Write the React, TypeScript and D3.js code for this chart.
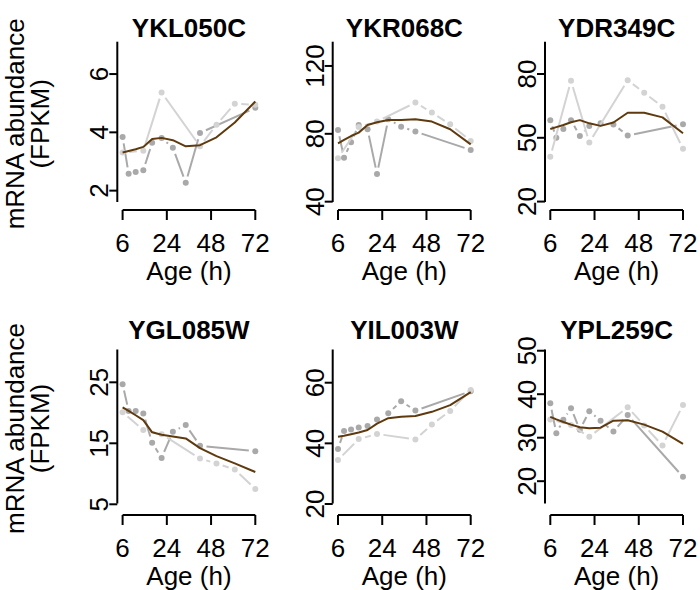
import React from "react";
import * as d3 from "d3";

// Sampling times (h) of the two replicate time courses and of the fitted curve
const hoursRepA = [6, 9, 12.5, 16.3, 20.7, 25.4, 31, 37.4, 44.5, 72];
const hoursRepB = [6, 16.3, 25.4, 44.5, 52.7, 61.8, 72];
const hoursFit = [6, 9, 12.5, 16.3, 20.7, 25.4, 31, 37.4, 44.5, 52.7, 61.8, 72];

const genes = ["YKL050C", "YKR068C", "YDR349C", "YGL085W", "YIL003W", "YPL259C"];

// Replicate A (darker grey), one row per gene
const repA = [
  [3.84, 2.58, 2.64, 2.7, 3.64, 3.81, 3.47, 2.27, 3.98, 4.84],
  [82.3, 65.9, 75.0, 85.2, 82.7, 56.3, 88.6, 84.2, 81.3, 70.5],
  [58.3, 50.0, 54.1, 58.3, 50.9, 55.5, 56.8, 56.3, 51.1, 56.4],
  [24.7, 20.3, 20.3, 19.9, 15.1, 12.6, 16.9, 18.0, 14.6, 13.7],
  [38.1, 44.1, 44.6, 45.2, 45.7, 47.9, 49.9, 53.9, 50.8, 57.2],
  [37.9, 31.0, 34.1, 36.8, 31.8, 36.1, 33.9, 31.4, 35.2, 21.0],
];

// Replicate B (light grey)
const repB = [
  [3.31, 3.37, 5.37, 3.52, 4.26, 4.98, 4.95],
  [65.6, 84.0, 87.2, 98.4, 92.5, 85.6, 75.8],
  [41.1, 76.8, 47.8, 77.1, 71.2, 64.6, 44.8],
  [20.1, 17.2, 16.5, 12.5, 11.7, 10.7, 7.5],
  [34.5, 41.4, 43.1, 41.3, 46.2, 50.7, 57.6],
  [34.2, 32.9, 30.2, 37.0, 32.8, 28.2, 37.5],
];

// Smoothed mean profile (brown)
const fit = [
  [3.31, 3.36, 3.42, 3.5, 3.77, 3.81, 3.73, 3.52, 3.56, 3.83, 4.34, 5.06],
  [74.4, 76.4, 78.7, 80.7, 85.2, 86.8, 88.2, 88.2, 88.6, 87.2, 82.7, 73.8],
  [54.1, 55.0, 56.0, 57.3, 58.3, 56.8, 55.6, 57.2, 61.8, 61.8, 59.6, 52.1],
  [20.9, 20.3, 19.6, 18.8, 16.8, 16.4, 16.1, 15.8, 14.2, 12.9, 11.7, 10.3],
  [42.2, 42.5, 43.0, 43.6, 44.4, 46.5, 48.3, 48.8, 49.0, 50.4, 52.6, 56.9],
  [34.8, 34.2, 33.6, 33.0, 32.4, 32.2, 32.3, 33.9, 34.0, 33.0, 31.4, 28.6],
];

const yLimits = [
  [1.61, 7.11],
  [39.8, 134.3],
  [19.8, 95.2],
  [5.13, 30.38],
  [20.17, 70.95],
  [14.87, 50.28],
];

const yTicks = [
  [2, 4, 6],
  [40, 80, 120],
  [20, 50, 80],
  [5, 15, 25],
  [20, 40, 60],
  [20, 30, 40, 50],
];

const xTickAt = [6, 28, 50, 72];
const xTickLabels = ["6", "24", "48", "72"];

const W = 700;
const H = 590;
const FONT = "'Liberation Sans', Arial, Helvetica, sans-serif";
const FS = 26;
const GREY_A = "#a9a9a9";
const GREY_B = "#d3d3d3";
const BROWN = "#5e3a0e";
const GAP = 6.5;

const colAxisX = [117.3, 332.7, 545];
const rowTop = [41.7, 349.5];
const rowBottom = [202, 503.5];
const rowXAxisY = [210, 515];
const rowTitleY = [37, 339];

type Pt = [number, number];

function gapped(pts: Pt[], gap: number) {
  const segs: [number, number, number, number][] = [];
  for (let i = 0; i < pts.length - 1; i++) {
    const [x1, y1] = pts[i];
    const [x2, y2] = pts[i + 1];
    const dx = x2 - x1;
    const dy = y2 - y1;
    const d = Math.hypot(dx, dy);
    if (d <= 2 * gap) continue;
    const ux = dx / d;
    const uy = dy / d;
    segs.push([x1 + ux * gap, y1 + uy * gap, x2 - ux * gap, y2 - uy * gap]);
  }
  return segs;
}

function Panel({ idx }: { idx: number }) {
  const col = idx % 3;
  const row = Math.floor(idx / 3);
  const ax = colAxisX[col];
  const x = d3.scaleLinear().domain([6, 72]).range([ax + 5.3, ax + 138]);
  const y = d3.scaleLinear().domain(yLimits[idx]).range([rowBottom[row], rowTop[row]]);
  const xAxisY = rowXAxisY[row];
  const cx = (x(6) + x(72)) / 2;
  const cy = (rowTop[row] + rowBottom[row]) / 2;

  const ptsA: Pt[] = hoursRepA.map((h, i) => [x(h), y(repA[idx][i])]);
  const ptsB: Pt[] = hoursRepB.map((h, i) => [x(h), y(repB[idx][i])]);
  const fitLine = d3
    .line<number>()
    .x((_, i) => x(hoursFit[i]))
    .y((v) => y(v))(fit[idx]);

  const series = [
    { pts: ptsA, color: GREY_A },
    { pts: ptsB, color: GREY_B },
  ];

  return (
    <g>
      <text x={cx} y={rowTitleY[row]} textAnchor="middle" fontSize={FS} fontWeight="bold" fontFamily={FONT}>
        {genes[idx]}
      </text>
      {/* y axis */}
      <line x1={ax} x2={ax} y1={rowTop[row]} y2={rowBottom[row]} stroke="#000" strokeWidth={2} />
      {yTicks[idx].map((t) => (
        <g key={t}>
          <line x1={ax - 8} x2={ax} y1={y(t)} y2={y(t)} stroke="#000" strokeWidth={2} />
          <text
            transform={`translate(${ax - 9},${y(t)}) rotate(-90)`}
            textAnchor="middle"
            fontSize={FS}
            fontFamily={FONT}
          >
            {t}
          </text>
        </g>
      ))}
      {/* x axis */}
      <line x1={x(6)} x2={x(72)} y1={xAxisY} y2={xAxisY} stroke="#000" strokeWidth={2} />
      {xTickAt.map((t, i) => (
        <g key={t}>
          <line x1={x(t)} x2={x(t)} y1={xAxisY} y2={xAxisY + 10} stroke="#000" strokeWidth={2} />
          <text x={x(t)} y={xAxisY + 42} textAnchor="middle" fontSize={FS} fontFamily={FONT}>
            {xTickLabels[i]}
          </text>
        </g>
      ))}
      <text x={cx} y={xAxisY + 70} textAnchor="middle" fontSize={FS} fontFamily={FONT}>
        Age (h)
      </text>
      {col === 0 && (
        <text transform={`translate(24,${cy + 2}) rotate(-90)`} textAnchor="middle" fontSize={FS} fontFamily={FONT}>
          <tspan x={0} dy={0}>mRNA abundance</tspan>
          <tspan x={0} dy={25}>(FPKM)</tspan>
        </text>
      )}
      {series.map((s, si) => (
        <g key={si}>
          {gapped(s.pts, GAP).map((sg, k) => (
            <line key={k} x1={sg[0]} y1={sg[1]} x2={sg[2]} y2={sg[3]} stroke={s.color} strokeWidth={2} />
          ))}
          {s.pts.map((p, k) => (
            <circle key={k} cx={p[0]} cy={p[1]} r={3} fill={s.color} />
          ))}
        </g>
      ))}
      <path d={fitLine || ""} fill="none" stroke={BROWN} strokeWidth={2} strokeLinejoin="round" />
    </g>
  );
}

export default function App() {
  return (
    <div style={{ position: "absolute", left: 0, top: 0 }}>
      <svg width={W} height={H} viewBox={`0 0 ${W} ${H}`} style={{ display: "block", background: "#fff" }}>
        {genes.map((_, i) => (
          <Panel key={i} idx={i} />
        ))}
      </svg>
    </div>
  );
}
